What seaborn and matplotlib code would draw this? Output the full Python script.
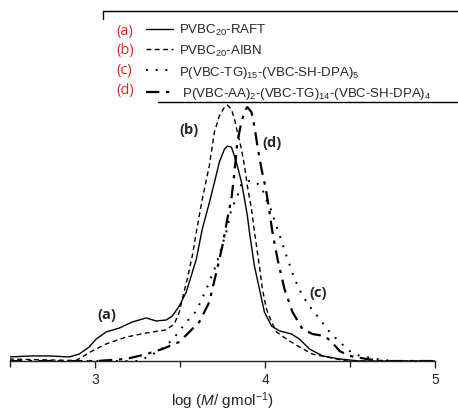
import numpy as np
import pandas as pd
import matplotlib
matplotlib.use("Agg")
import matplotlib.pyplot as plt
import seaborn as sns
from matplotlib.lines import Line2D

# GPC traces (log M, normalised RI signal)
logm_a = [2.494, 2.629, 2.729, 2.847, 2.906, 2.965, 3.006, 3.065, 3.141, 3.218, 3.300,
          3.359, 3.418, 3.453, 3.495, 3.536, 3.554, 3.595, 3.630, 3.671, 3.701, 3.730,
          3.760, 3.777, 3.801, 3.819, 3.836, 3.860, 3.878, 3.895, 3.907, 3.936, 3.966,
          3.995, 4.037, 4.084, 4.154, 4.201, 4.260, 4.337, 4.437, 4.555, 5.0]
sig_a = [0.016, 0.020, 0.020, 0.016, 0.027, 0.055, 0.086, 0.114, 0.129, 0.153, 0.169,
         0.157, 0.161, 0.176, 0.216, 0.271, 0.310, 0.400, 0.518, 0.620, 0.700, 0.780,
         0.831, 0.843, 0.839, 0.804, 0.765, 0.702, 0.635, 0.569, 0.506, 0.373, 0.282,
         0.192, 0.137, 0.118, 0.106, 0.086, 0.047, 0.020, 0.008, 0.0, 0.0]

logm_b = [2.494, 2.729, 2.888, 2.982, 3.065, 3.183, 3.300, 3.377, 3.418, 3.465, 3.495,
          3.512, 3.542, 3.571, 3.601, 3.630, 3.671, 3.701, 3.730, 3.760, 3.777, 3.801,
          3.819, 3.836, 3.860, 3.878, 3.895, 3.919, 3.936, 3.966, 3.983, 4.007, 4.037,
          4.066, 4.125, 4.201, 4.278, 4.360, 4.478, 5.0]
sig_b = [0.008, 0.004, 0.002, 0.039, 0.067, 0.094, 0.110, 0.118, 0.122, 0.145, 0.192,
         0.243, 0.322, 0.412, 0.529, 0.635, 0.765, 0.898, 0.961, 0.996, 1.004, 0.988,
         0.949, 0.898, 0.831, 0.765, 0.686, 0.596, 0.510, 0.369, 0.282, 0.204, 0.153,
         0.114, 0.086, 0.055, 0.027, 0.016, 0.0, 0.0]

logm_c = [2.494, 3.259, 3.377, 3.453, 3.536, 3.595, 3.654, 3.713, 3.771, 3.801, 3.836,
          3.860, 3.889, 3.936, 3.978, 4.013, 4.030, 4.072, 4.125, 4.172, 4.219, 4.272,
          4.319, 4.378, 4.437, 4.496, 4.555, 4.655, 4.750, 5.0]
sig_c = [0.0, 0.0, 0.040, 0.082, 0.153, 0.196, 0.282, 0.380, 0.506, 0.596, 0.647,
         0.694, 0.706, 0.706, 0.682, 0.620, 0.600, 0.518, 0.412, 0.322, 0.255, 0.204,
         0.165, 0.114, 0.075, 0.039, 0.020, 0.008, 0.0, 0.0]

logm_d = [2.494, 3.006, 3.183, 3.300, 3.395, 3.495, 3.542, 3.612, 3.671, 3.713, 3.748,
          3.777, 3.801, 3.819, 3.836, 3.860, 3.878, 3.895, 3.919, 3.936, 3.954, 3.978,
          3.995, 4.007, 4.025, 4.042, 4.072, 4.113, 4.160, 4.219, 4.278, 4.349, 4.390,
          4.437, 4.496, 4.596, 4.690, 5.0]
sig_d = [0.0, 0.0, 0.008, 0.027, 0.047, 0.075, 0.106, 0.153, 0.231, 0.349, 0.451,
         0.557, 0.635, 0.741, 0.859, 0.937, 0.980, 0.996, 0.976, 0.922, 0.843, 0.753,
         0.700, 0.660, 0.584, 0.506, 0.400, 0.282, 0.192, 0.125, 0.106, 0.098, 0.075,
         0.039, 0.020, 0.008, 0.0, 0.0]

tags = ["(a)", "(b)", "(c)", "(d)"]
names = ["PVBC$_{20}$-RAFT",
         "PVBC$_{20}$-AIBN",
         "P(VBC-TG)$_{15}$-(VBC-SH-DPA)$_{5}$",
         " P(VBC-AA)$_{2}$-(VBC-TG)$_{14}$-(VBC-SH-DPA)$_{4}$"]
# label positions for (a)-(d) next to the curves
tag_x = [3.07, 3.55, 4.31, 4.04]
tag_y = [0.184, 0.91, 0.27, 0.86]

sns.set_style("ticks")
plt.rcParams['font.family'] = ['Liberation Sans', 'DejaVu Sans']
plt.rcParams['mathtext.fontset'] = 'custom'
plt.rcParams['mathtext.rm'] = 'Liberation Sans'
plt.rcParams['mathtext.it'] = 'Liberation Sans:italic'

fig = plt.figure(figsize=(4.58, 4.10), dpi=100)
ax = fig.add_axes([0.0218, 0.117, 0.929, 0.883])

styles = [
    dict(lw=1.0, ls='-'),
    dict(lw=1.0, ls=(0, (3.5, 2.5))),
    dict(lw=1.4, ls=(0, (1, 4))),
    dict(lw=1.6, ls=(0, (6, 3, 1.5, 3))),
]
series = [(logm_a, sig_a), (logm_b, sig_b), (logm_c, sig_c), (logm_d, sig_d)]
handles = []
for (xs, ys), st in zip(series, styles):
    sns.lineplot(x=xs, y=ys, ax=ax, color='black', sort=False, estimator=None, **st)
    handles.append(Line2D([], [], color='black', lw=st['lw'], ls=st['ls']))

ax.set_xlim(2.5, 5.0)
ax.set_ylim(0, 1.42)
ax.set_xticks([3, 4, 5])
ax.set_xticks([2.5, 3.5, 4.5], minor=True)
ax.tick_params(axis='x', which='major', direction='out', length=5, width=1,
               labelsize=10, pad=3)
ax.tick_params(axis='x', which='minor', direction='out', length=4, width=1)
ax.set_yticks([])
sns.despine(ax=ax, left=True, top=True, right=True)
ax.spines['bottom'].set_linewidth(1.0)
ax.set_xlabel("log ($M$/ gmol$^{-1}$)", fontsize=11, labelpad=2)
ax.set_ylabel("")

for t, x, y in zip(tags, tag_x, tag_y):
    ax.text(x, y, t, fontsize=10.5, fontweight='bold', family=['Open Sans', 'DejaVu Sans'],
            ha='center', va='center')

leg = fig.legend(handles, names, loc='upper left', bbox_to_anchor=(0.318, 0.943),
                 frameon=False, fontsize=9.5, handlelength=2.1, handletextpad=0.45,
                 labelspacing=0.42, borderpad=0, borderaxespad=0)

# red tags in front of the legend entries
for i, t in enumerate(tags):
    fig.text(0.254, 1 - (31 + 19.7 * i) / 410, t, color='#e8251f', fontsize=10.5,
             family=['Open Sans', 'DejaVu Sans'], ha='left', va='center')

# partial frame around the legend
fig.add_artist(Line2D([103 / 458, 1], [1 - 12 / 410, 1 - 12 / 410], color='black', lw=1))
fig.add_artist(Line2D([103 / 458, 103 / 458], [1 - 12 / 410, 1 - 20 / 410], color='black', lw=1))
fig.add_artist(Line2D([158 / 458, 1], [1 - 103 / 410, 1 - 103 / 410], color='black', lw=1))

fig.savefig("out.png", dpi=100)
